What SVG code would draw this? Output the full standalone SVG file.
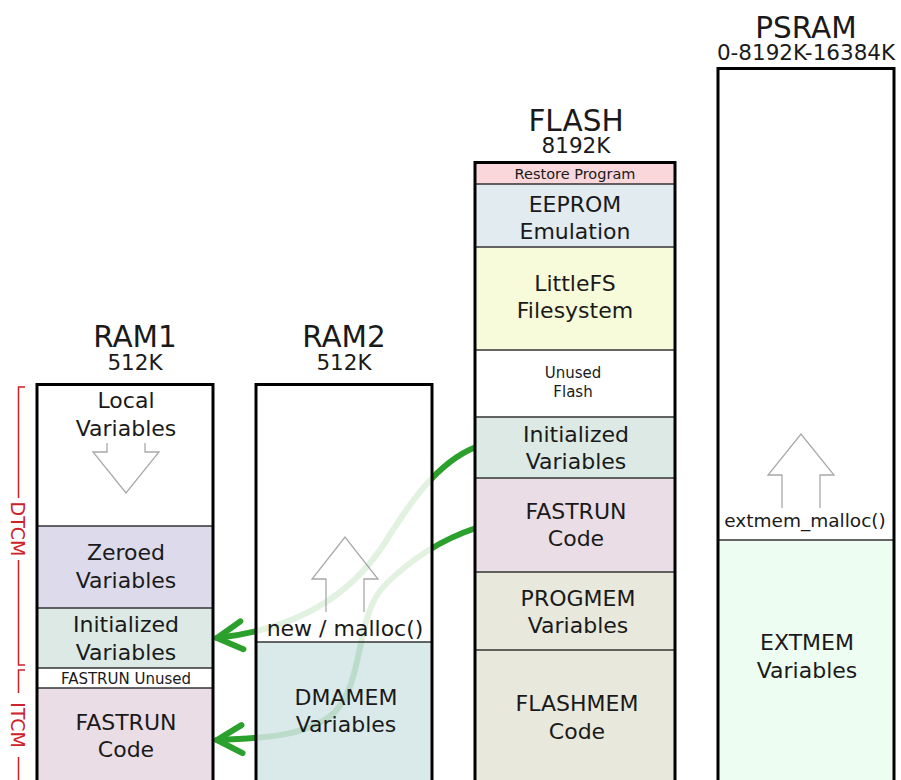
<svg xmlns="http://www.w3.org/2000/svg" width="901" height="780" viewBox="0 0 901 780">
<style>
text{font-family:"DejaVu Sans","Liberation Sans",sans-serif;fill:#1a1a1a;text-anchor:middle}
.h{font-size:29.5px}
.s{font-size:21.5px}
.l{font-size:22px}
.sm{font-size:15px}
.box{fill:none;stroke:#000;stroke-width:3}
.div{stroke:#333;stroke-width:1.5}
.ho{fill:none;stroke:#a8a8a8;stroke-width:1.3}
.br{fill:none;stroke:#cc2229;stroke-width:1.5}
.brt{fill:#cc2229;font-size:19px}
.g{fill:none;stroke:#2ca02c;stroke-width:6;stroke-linecap:round;stroke-linejoin:round}
</style>
<defs>
<marker id="chev" markerUnits="userSpaceOnUse" orient="auto" refX="0" refY="0" markerWidth="40" markerHeight="40" viewBox="-32 -20 40 40" overflow="visible">
<path d="M-25,-14 L0,0 L-25,14" fill="none" stroke="#2ca02c" stroke-width="6" stroke-linecap="round" stroke-linejoin="round"/>
</marker>
</defs>
<rect x="0" y="0" width="901" height="780" fill="#fff"/>

<g id="connectors">
<path class="g" d="M476,447 C430,465 400,520 380,550 C345,600 290,630 217,638" marker-end="url(#chev)"/>
<path class="g" d="M476,528 C440,540 410,560 385,585 C355,615 365,680 335,712 C310,735 270,738 217,740" marker-end="url(#chev)"/>
</g>

<g id="bracket">
<g id="dtcm">
<path class="br" d="M25,387 H18.5 V498 M18.5,560 V665 H25"/>
<text class="brt" transform="translate(18,529) rotate(90)" dy="0.36em">DTCM</text>
</g>
<g id="itcm">
<path class="br" d="M25,670 H18.5 V693 M18.5,757 V790"/>
<text class="brt" transform="translate(18,725) rotate(90)" dy="0.36em">ITCM</text>
</g>
</g>

<g id="ram1">
<text class="h" x="135" y="347">RAM1</text>
<text class="s" x="135" y="370">512K</text>
<g id="ram1-local">
<rect x="37" y="384.5" width="176" height="141.5" fill="#fff"/>
<text class="l" x="126" y="408">Local</text>
<text class="l" x="126" y="436">Variables</text>
<polyline class="ho" points="107,443 107,452 93,452 126,493 159,452 145,452 145,443"/>
</g>
<g id="ram1-zeroed">
<rect x="37" y="526" width="176" height="82" fill="#dddbeb"/>
<text class="l" x="126" y="560">Zeroed</text>
<text class="l" x="126" y="588">Variables</text>
</g>
<g id="ram1-init">
<rect x="37" y="608" width="176" height="60" fill="#dce9e4"/>
<text class="l" x="126" y="632">Initialized</text>
<text class="l" x="126" y="660">Variables</text>
</g>
<g id="ram1-unused">
<rect x="37" y="668" width="176" height="20" fill="#fff"/>
<text class="sm" x="126" y="684">FASTRUN Unused</text>
</g>
<g id="ram1-fastrun">
<rect x="37" y="688" width="176" height="102" fill="#ebdde6"/>
<text class="l" x="126" y="730">FASTRUN</text>
<text class="l" x="126" y="757">Code</text>
</g>
<line class="div" x1="37" y1="526" x2="213" y2="526"/>
<line class="div" x1="37" y1="608" x2="213" y2="608"/>
<line class="div" x1="37" y1="668" x2="213" y2="668"/>
<line class="div" x1="37" y1="688" x2="213" y2="688"/>
<rect class="box" x="37" y="384.5" width="176" height="410"/>
</g>

<g id="ram2">
<text class="h" x="344" y="347">RAM2</text>
<text class="s" x="344" y="370">512K</text>
<g id="ram2-heap">
<rect x="256" y="384.5" width="176" height="257.5" fill="#fff" fill-opacity="0.86"/>
<polyline class="ho" points="326,612 326,579 312,579 345,537 378,579 364,579 364,612"/>
<text class="l" x="345" y="636">new / malloc()</text>
</g>
<g id="ram2-dmamem">
<rect x="256" y="642" width="176" height="148" fill="#d4e5e5" fill-opacity="0.86"/>
<text class="l" x="346" y="705">DMAMEM</text>
<text class="l" x="346" y="732">Variables</text>
</g>
<line class="div" x1="256" y1="642" x2="432" y2="642"/>
<rect class="box" x="256" y="384.5" width="176" height="410"/>
</g>

<g id="flash">
<text class="h" x="576" y="131">FLASH</text>
<text class="s" x="576" y="153">8192K</text>
<g id="flash-restore">
<rect x="475" y="162.5" width="200" height="21.5" fill="#f9d7da"/>
<text x="575" y="179" style="font-size:14.5px">Restore Program</text>
</g>
<g id="flash-eeprom">
<rect x="475" y="184" width="200" height="63" fill="#e2ebf0"/>
<text class="l" x="575" y="212">EEPROM</text>
<text class="l" x="575" y="239">Emulation</text>
</g>
<g id="flash-littlefs">
<rect x="475" y="247" width="200" height="103" fill="#f8fbd9"/>
<text class="l" x="575" y="291">LittleFS</text>
<text class="l" x="575" y="318">Filesystem</text>
</g>
<g id="flash-unused">
<rect x="475" y="350" width="200" height="67" fill="#fff"/>
<text class="sm" x="573" y="378">Unused</text>
<text class="sm" x="573" y="397">Flash</text>
</g>
<g id="flash-init">
<rect x="475" y="417" width="200" height="61" fill="#dce9e4"/>
<text class="l" x="576" y="442">Initialized</text>
<text class="l" x="576" y="469">Variables</text>
</g>
<g id="flash-fastrun">
<rect x="475" y="478" width="200" height="94" fill="#ebdde6"/>
<text class="l" x="576" y="519">FASTRUN</text>
<text class="l" x="576" y="546">Code</text>
</g>
<g id="flash-progmem">
<rect x="475" y="572" width="200" height="78" fill="#e8e8dc"/>
<text class="l" x="578" y="606">PROGMEM</text>
<text class="l" x="578" y="633">Variables</text>
</g>
<g id="flash-flashmem">
<rect x="475" y="650" width="200" height="140" fill="#e8e8dc"/>
<text class="l" x="577" y="711">FLASHMEM</text>
<text class="l" x="577" y="739">Code</text>
</g>
<line class="div" x1="475" y1="184" x2="675" y2="184"/>
<line class="div" x1="475" y1="247" x2="675" y2="247"/>
<line class="div" x1="475" y1="350" x2="675" y2="350"/>
<line class="div" x1="475" y1="417" x2="675" y2="417"/>
<line class="div" x1="475" y1="478" x2="675" y2="478"/>
<line class="div" x1="475" y1="572" x2="675" y2="572"/>
<line class="div" x1="475" y1="650" x2="675" y2="650"/>
<rect class="box" x="475" y="162.5" width="200" height="632"/>
</g>

<g id="psram">
<text class="h" x="806" y="38">PSRAM</text>
<text class="s" x="806" y="60">0-8192K-16384K</text>
<g id="psram-heap">
<rect x="718" y="68.5" width="176" height="471.5" fill="#fff"/>
<polyline class="ho" points="782,508 782,475 768,475 801,434 834,475 820,475 820,508"/>
<text x="805" y="527" style="font-size:18.5px">extmem_malloc()</text>
</g>
<g id="psram-extmem">
<rect x="718" y="540" width="176" height="250" fill="#eefdf1"/>
<text class="l" x="807" y="650">EXTMEM</text>
<text class="l" x="807" y="678">Variables</text>
</g>
<line class="div" x1="718" y1="540" x2="894" y2="540"/>
<rect class="box" x="718" y="68.5" width="176" height="726"/>
</g>
</svg>
